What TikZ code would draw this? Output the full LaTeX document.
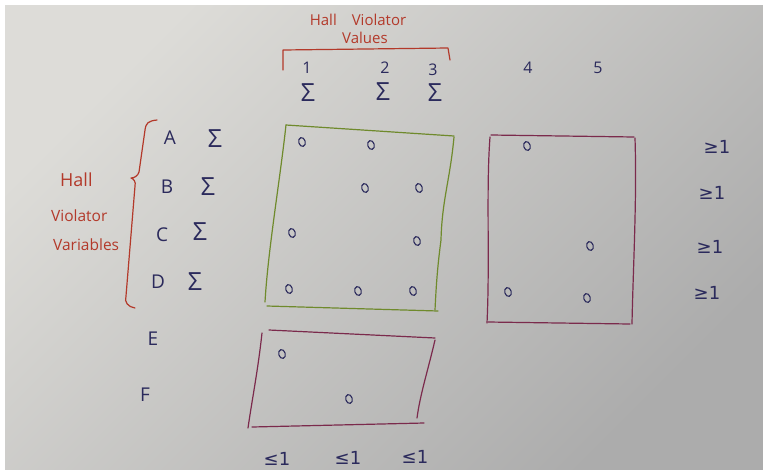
\documentclass[tikz,border=0pt]{standalone}
\usepackage{fontspec}
\setmainfont{Open Sans}
\newfontfamily\symfont{DejaVu Sans}
\definecolor{ink}{HTML}{2B2A5C}
\definecolor{redink}{HTML}{B3392A}
\definecolor{greenink}{HTML}{6F8A2C}
\definecolor{plum}{HTML}{7B2A4C}
\definecolor{paperA}{HTML}{DDDCD8}
\definecolor{paperM}{HTML}{D6D6D4}
\definecolor{paperB}{HTML}{ACACAC}
\usetikzlibrary{shapes.geometric}
\tikzset{
  pen/.style={line width=1.2pt, line cap=round, line join=round},
  lab/.style={text=ink, font=\fontsize{19}{19}\selectfont, inner sep=0pt},
  num/.style={text=ink, font=\fontsize{16}{16}\selectfont, inner sep=0pt},
  sig/.style={text=ink, font=\fontsize{25}{25}\selectfont, inner sep=0pt},
  rel/.style={text=ink, font=\symfont\fontsize{18}{18}\selectfont, inner sep=0pt},
  redlab/.style={text=redink, font=\fontsize{15}{15}\selectfont, inner sep=0pt, align=left},
  redbig/.style={text=redink, font=\fontsize{15.5}{15.5}\selectfont, inner sep=0pt, anchor=west},
  dot/.style={draw=ink, line width=1.1pt, ellipse, minimum width=6.5pt, minimum height=9pt, inner sep=0pt, rotate=15},
}
\begin{document}
\begin{tikzpicture}[x=1pt,y=-1pt]
\useasboundingbox (0,0) rectangle (763,469);
\fill[white] (0,0) rectangle (763,469);
\shade[top color=paperA, middle color=paperM, bottom color=paperB, shading angle=45] (5,5) rectangle (763,469);

% top header
\node[redlab] (hvv1) at (358,20) {Hall\hspace{1em}Violator};
\node[redlab] (hvv2) at (365,38) {Values};
\draw[pen, redink] (283,70) -- (283,50) -- (448,48) -- (450,60);

\node[num] (c1) at (307,68) {1};
\node[num] (c2) at (385,68) {2};
\node[num] (c3) at (433,70) {3};
\node[num] (c4) at (528,68) {4};
\node[num] (c5) at (598,68) {5};
\node[sig] (s1) at (308,93) {Σ};
\node[sig] (s2) at (383,92) {Σ};
\node[sig] (s3) at (435,93) {Σ};

% left label and brace
\node[redbig, font=\fontsize{18}{18}\selectfont] (hl1) at (60,180) {Hall};
\node[redbig] (hl2) at (51,216) {Violator};
\node[redbig] (hl3) at (53,245) {Variables};
\draw[pen, redink] (157,120) .. controls (148,121) and (146,123) .. (145,130)
  -- (139,172) .. controls (138,176) and (134,178) .. (131,178)
  .. controls (134,179) and (136,182) .. (135,186)
  -- (126,296) .. controls (124,302) and (128,307) .. (135,308);

% row labels
\node[lab] (ra) at (170,138) {A};
\node[sig] (sa) at (215,139) {Σ};
\node[lab] (rb) at (167,187) {B};
\node[sig] (sb) at (208,187) {Σ};
\node[lab] (rc) at (162,235) {C};
\node[sig] (sc) at (200,232) {Σ};
\node[lab] (rd) at (158,282) {D};
\node[sig] (sd) at (195,282) {Σ};
\node[lab] (re) at (153,339) {E};
\node[lab] (rf) at (145,395) {F};

% green box
\draw[pen, greenink] (286,125) -- (454,136);
\draw[pen, greenink] (286,125) .. controls (280,180) and (268,250) .. (265,302);
\draw[pen, greenink] (267,306) -- (438,311);
\draw[pen, greenink] (454,137) .. controls (450,180) and (442,200) .. (441,240) .. controls (437,270) and (436,290) .. (435,310);
\foreach \n/\x/\y in {g1/302/142, g2/371/145, g3/365/188, g4/419/188, g5/292/233, g6/417/241, g7/289/289, g8/358/291, g9/413/291}
  \node[dot] (\n) at (\x,\y) {};

% plum right box
\draw[pen, plum] (491,135) -- (634,137);
\draw[pen, plum] (490,137) .. controls (486,190) and (490,260) .. (487,323);
\draw[pen, plum] (488,322) -- (630,324);
\draw[pen, plum] (635,138) .. controls (637,200) and (633,270) .. (632,324);
\foreach \n/\x/\y in {p1/527/146, p2/590/246, p3/508/292, p4/587/298}
  \node[dot] (\n) at (\x,\y) {};

% plum bottom box
\draw[pen, plum] (269,330) -- (435,338);
\draw[pen, plum] (262,333) .. controls (258,370) and (252,400) .. (248,428);
\draw[pen, plum] (252,427) -- (424,423);
\draw[pen, plum] (435,340) .. controls (428,370) and (420,395) .. (417,418);
\node[dot] (q1) at (282,354) {};
\node[dot] (q2) at (349,399) {};

% constraints
\node[rel] (k1) at (717,147) {≥1};
\node[rel] (k2) at (712,193) {≥1};
\node[rel] (k3) at (710,247) {≥1};
\node[rel] (k4) at (707,293) {≥1};
\node[rel] (l1) at (277,459) {≤1};
\node[rel] (l2) at (348,458) {≤1};
\node[rel] (l3) at (415,457) {≤1};
\end{tikzpicture}
\end{document}
